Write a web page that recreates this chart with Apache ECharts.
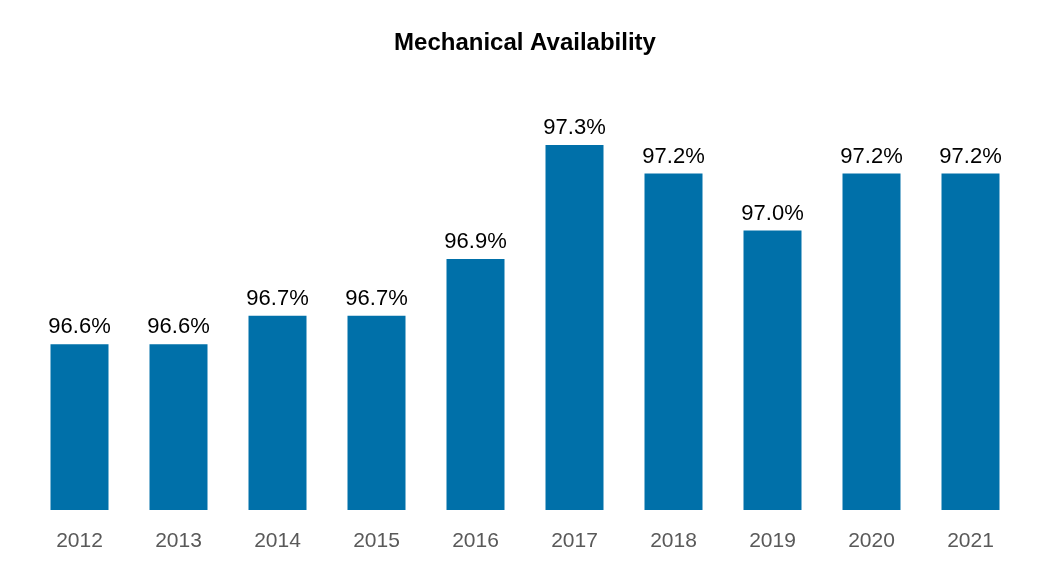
<!DOCTYPE html>
<html><head><meta charset="utf-8">
<script src="https://cdn.jsdelivr.net/npm/echarts@6/dist/echarts.min.js"></script>
<style>html,body{margin:0;padding:0;background:#fff}#c{width:1050px;height:580px}</style>
</head><body><div id="c"></div>
<script>
const years = ['2012','2013','2014','2015','2016','2017','2018','2019','2020','2021'];
const availability = [96.6, 96.6, 96.7, 96.7, 96.9, 97.3, 97.2, 97.0, 97.2, 97.2];
const chart = echarts.init(document.getElementById('c'));
chart.setOption({
  animation: false,
  title: {text: 'Mechanical Availability', left: 'center', top: 26,
    textStyle: {fontFamily: 'Liberation Sans, Arial', fontSize: 24, fontWeight: 'bold', color: '#000'}},
  grid: {left: 30, right: 30, top: 85, bottom: 70},
  xAxis: {type: 'category', data: years,
    axisLine: {show: false}, axisTick: {show: false},
    axisLabel: {fontFamily: 'Liberation Sans, Arial', fontSize: 21, color: '#595959', margin: 21}},
  yAxis: {type: 'value', min: 96.018, max: 97.511, show: false, splitLine: {show: false}},
  series: [{type: 'bar', data: availability, barWidth: 58,
    itemStyle: {color: '#0070A9'},
    label: {show: true, position: 'top', distance: 6,
      fontFamily: 'Liberation Sans, Arial', fontSize: 22, color: '#000',
      formatter: p => p.value.toFixed(1) + '%'}}]
});
</script></body></html>
